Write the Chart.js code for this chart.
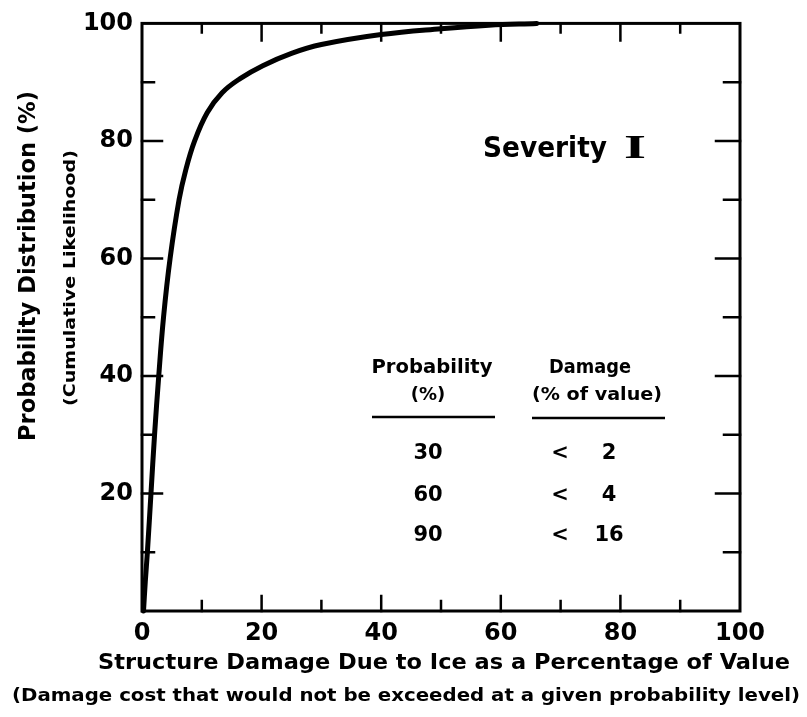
<!DOCTYPE html>
<html>
<head>
<meta charset="utf-8">
<script src="https://cdn.jsdelivr.net/npm/chart.js@4/dist/chart.umd.min.js"></script>
<style>
html,body{margin:0;padding:0;background:#fff;}
canvas{display:block;}
</style>
</head>
<body>
<canvas id="c" width="807" height="717"></canvas>
<script>
// Curve: structure damage (% of value) vs cumulative probability (%)
const damagePct = [0.25, 0.55, 0.9, 1.5, 2.1, 2.8, 3.6, 4.7, 6.2, 7.3, 8.8, 10.9, 13.4, 16.4, 20.2, 25, 30, 40, 50, 58, 66];
const cumProb   = [0,    5,    10,  20,  30,  40,  50,  60,  70,  75,  80,  84.8, 88.2, 90.6, 92.8, 94.9, 96.4, 98.1, 99.1, 99.7, 100];
const xTickLabels = [0, 20, 40, 60, 80, 100];
const yTickLabels = [20, 40, 60, 80, 100];
const tableProb = [30, 60, 90];
const tableDamage = [2, 4, 16];
const yTitle = 'Probability Distribution (%)';
const ySubTitle = '(Cumulative Likelihood)';
const xTitle = 'Structure Damage Due to Ice as a Percentage of Value';
const xSubTitle = '(Damage cost that would not be exceeded at a given probability level)';
const severityText = 'Severity';
const severityNum = 'I';
const tableHead = [['Probability', '(%)'], ['Damage', '(% of value)']];

const FAM = '"DejaVu Sans", sans-serif';

function fitText(ctx, txt, cx, cy, w, font, rot) {
  ctx.save();
  ctx.font = font;
  const m = ctx.measureText(txt).width;
  ctx.translate(cx, cy);
  if (rot) ctx.rotate(rot);
  ctx.scale(w / m, 1);
  ctx.textAlign = 'center';
  ctx.textBaseline = 'middle';
  ctx.fillStyle = '#000';
  ctx.fillText(txt, 0, 0);
  ctx.restore();
}
function txt(ctx, t, x, y, font, align) {
  ctx.save();
  ctx.font = font;
  ctx.textAlign = align || 'center';
  ctx.textBaseline = 'middle';
  ctx.fillStyle = '#000';
  ctx.fillText(t, x, y);
  ctx.restore();
}

const framePlugin = {
  id: 'frame',
  afterDraw(chart) {
    const {ctx, chartArea: a, scales: {x, y}} = chart;
    ctx.save();
    ctx.strokeStyle = '#000';
    ctx.lineWidth = 3;
    ctx.lineCap = 'square';
    ctx.strokeRect(a.left, a.top, a.right - a.left, a.bottom - a.top);
    ctx.lineWidth = 2.5;
    ctx.beginPath();
    x.ticks.forEach(t => {
      if (t.value <= 0 || t.value >= 100) return;
      const px = x.getPixelForValue(t.value);
      const major = t.value % 20 === 0;
      const lb = major ? 15 : 10, lt = major ? 17 : 9;
      ctx.moveTo(px, a.bottom); ctx.lineTo(px, a.bottom - lb);
      ctx.moveTo(px, a.top); ctx.lineTo(px, a.top + lt);
    });
    y.ticks.forEach(t => {
      if (t.value <= 0 || t.value >= 100) return;
      const py = y.getPixelForValue(t.value);
      const major = t.value % 20 === 0;
      const ll = major ? 20 : 12, lr = major ? 24 : 16;
      ctx.moveTo(a.left, py); ctx.lineTo(a.left + ll, py);
      ctx.moveTo(a.right, py); ctx.lineTo(a.right - lr, py);
    });
    ctx.stroke();
    ctx.restore();

    // Axis titles
    fitText(ctx, yTitle, 29, 266, 350, 'bold 23px ' + FAM, -Math.PI / 2);
    fitText(ctx, ySubTitle, 71, 278, 256, 'bold 15px ' + FAM, -Math.PI / 2);
    fitText(ctx, xTitle, 444, 663, 692, 'bold 22px ' + FAM, 0);
    fitText(ctx, xSubTitle, 406, 697, 788, 'bold 17px ' + FAM, 0);

    // Severity label
    fitText(ctx, severityText, 545, 149, 124, 'bold 29px ' + FAM, 0);
    fitText(ctx, severityNum, 635, 149, 22, 'bold 33px "Liberation Serif", serif', 0);

    // Table
    const c1 = 432, c2 = 597;
    fitText(ctx, tableHead[0][0], c1, 368, 121, 'bold 19px ' + FAM, 0);
    txt(ctx, tableHead[0][1], c1 - 4, 395, 'bold 18px ' + FAM);
    fitText(ctx, tableHead[1][0], 590, 368, 82, 'bold 19px ' + FAM, 0);
    fitText(ctx, tableHead[1][1], c2, 395, 130, 'bold 18px ' + FAM, 0);
    ctx.save();
    ctx.strokeStyle = '#000';
    ctx.lineWidth = 2.5;
    ctx.beginPath();
    ctx.moveTo(372, 417); ctx.lineTo(495, 417);
    ctx.moveTo(532, 418); ctx.lineTo(665, 418);
    ctx.stroke();
    ctx.restore();
    const rowsY = [454, 496, 536];
    tableProb.forEach((p, i) => {
      txt(ctx, String(p), 428, rowsY[i], 'bold 21px ' + FAM);
      txt(ctx, '<', 560, rowsY[i], 'bold 21px ' + FAM);
      txt(ctx, String(tableDamage[i]), 609, rowsY[i], 'bold 21px ' + FAM);
    });
  }
};

new Chart(document.getElementById('c'), {
  type: 'line',
  data: {
    datasets: [{
      data: damagePct.map((v, i) => ({x: v, y: cumProb[i]})),
      borderColor: '#000',
      borderWidth: 5,
      pointRadius: 0,
      fill: false,
      tension: 0.4,
      borderCapStyle: 'round',
      borderJoinStyle: 'round',
      clip: false
    }]
  },
  options: {
    responsive: false,
    animation: false,
    devicePixelRatio: 1,
    layout: {padding: {left: 0, top: 20, right: 67, bottom: 0}},
    plugins: {legend: {display: false}, tooltip: {enabled: false}, title: {display: false}},
    scales: {
      x: {
        type: 'linear', min: 0, max: 100,
        grid: {display: false, drawTicks: false},
        border: {display: false},
        ticks: {
          stepSize: 10, autoSkip: false, maxRotation: 0, padding: 8, color: '#000',
          font: {family: FAM, size: 24, weight: 'bold'},
          callback: v => xTickLabels.includes(v) ? String(v) : ''
        },
        afterFit: s => { s.height = 106; }
      },
      y: {
        type: 'linear', min: 0, max: 100,
        grid: {display: false, drawTicks: false},
        border: {display: false},
        ticks: {
          stepSize: 10, autoSkip: false, padding: 9, color: '#000',
          font: {family: FAM, size: 24, weight: 'bold'},
          callback: v => yTickLabels.includes(v) ? String(v) : ''
        },
        afterFit: s => { s.width = 142; }
      }
    }
  },
  plugins: [framePlugin]
});
</script>
</body>
</html>
